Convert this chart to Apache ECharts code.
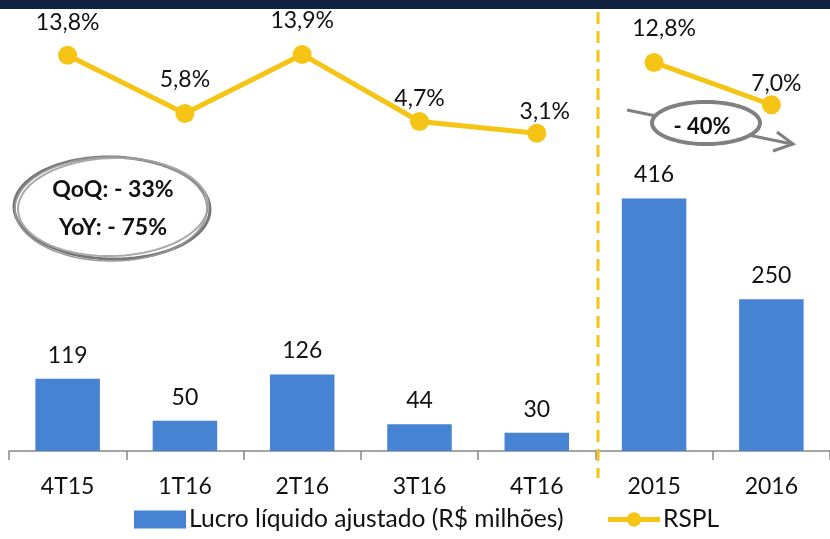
<!DOCTYPE html>
<html><head><meta charset="utf-8">
<script src="https://cdn.jsdelivr.net/npm/echarts@6/dist/echarts.min.js"></script>
<style>html,body{margin:0;padding:0;background:#fff}#c{width:830px;height:539px}</style>
</head><body><div id="c"></div>
<script>
const categories = ['4T15','1T16','2T16','3T16','4T16','2015','2016'];
const lucro = [119, 50, 126, 44, 30, 416, 250];
const rsplQuarter = [13.8, 5.8, 13.9, 4.7, 3.1, null, null];
const rsplYear = [null, null, null, null, null, 12.8, 7.0];

// label placement tweaks (style only): [distance, dx]
const lblTweak = [[12,0],[13,0],[13,0],[2,0],[1,8],[13,10],[0,5]];

const FONT = 'Lato, "Open Sans", sans-serif';
const BLUE = '#4684d3';
const YEL = '#f5c414';

function pct(v){ return v.toFixed(1).replace('.', ',') + '%'; }
function lineData(arr){
  return arr.map((v,i)=> v==null ? '-' : {
    value: v,
    label: {distance: lblTweak[i][0], offset: [lblTweak[i][1], 0]}
  });
}
function ellipsePts(cx, cy, rx, ry, rot){
  const p=[]; const n=90;
  for(let i=0;i<n;i++){const t=i/n*2*Math.PI;
    const x=rx*Math.cos(t), y=ry*Math.sin(t);
    p.push([cx + x*Math.cos(rot)-y*Math.sin(rot), cy + x*Math.sin(rot)+y*Math.cos(rot)]);}
  return p;
}

const chart = echarts.init(document.getElementById('c'));
const lineSeries = (data)=>({
  name: 'RSPL', type: 'line', yAxisIndex: 1, data: lineData(data),
  symbol: 'circle', symbolSize: 19, connectNulls: false,
  lineStyle: {color: YEL, width: 5}, itemStyle: {color: YEL},
  label: {show: true, position: 'top', color: '#111', fontSize: 23, fontFamily: FONT,
    formatter: p => pct(p.value)},
  z: 5
});
chart.setOption({
  animation: false,
  grid: {left: 9, right: -3, top: 26, bottom: 88, containLabel: false},
  legend: {
    bottom: 2, left: 129, itemWidth: 52, itemHeight: 18, itemGap: 42,
    textStyle: {fontSize: 24.6, fontFamily: FONT, color: '#111', padding: [0,0,0,-2]},
    data: [{name: 'Lucro líquido ajustado (R$ milhões)', icon: 'rect'},
           {name: 'RSPL', lineStyle: {width: 5, color: YEL}}]
  },
  xAxis: {
    type: 'category', data: categories,
    axisLine: {lineStyle: {color: '#888', width: 1.5}},
    axisTick: {show: true, length: 9, lineStyle: {color: '#888', width: 1.5}},
    axisLabel: {fontSize: 23, fontFamily: FONT, color: '#111', margin: 24}
  },
  yAxis: [
    {type: 'value', min: 0, max: 700, show: false, splitLine: {show: false}},
    {type: 'value', min: -40.5, max: 17.8, show: false, splitLine: {show: false}}
  ],
  series: [
    {name: 'Lucro líquido ajustado (R$ milhões)', type: 'bar', data: lucro, barWidth: '55%',
     itemStyle: {color: BLUE},
     label: {show: true, position: 'top', distance: 12, fontSize: 23, fontFamily: FONT, color: '#111'}},
    lineSeries(rsplQuarter),
    lineSeries(rsplYear)
  ],
  graphic: [
    {type: 'rect', shape: {x: 0, y: 0, width: 830, height: 9}, style: {fill: '#10223f'}},
    {type: 'line', shape: {x1: 598, y1: 12, x2: 598, y2: 478},
     style: {stroke: YEL, lineWidth: 3, lineDash: [12, 7]}, z: 10},
    // QoQ ellipse (sketchy double stroke)
    {type: 'polygon', shape: {points: ellipsePts(112, 208, 98, 51, 0.02)},
     style: {fill: '#fff', stroke: '#777', lineWidth: 3}, z: 20},
    {type: 'polygon', shape: {points: ellipsePts(113, 207, 95, 49, -0.03)},
     style: {fill: 'none', stroke: '#aaa', lineWidth: 2}, z: 21},
    {type: 'polygon', shape: {points: ellipsePts(111, 209, 96, 52, 0.0)},
     style: {fill: 'none', stroke: '#999', lineWidth: 1.5}, z: 21},
    {type: 'text', x: 113, y: 190, style: {text: 'QoQ: - 33%', font: 'bold 23px ' + FONT,
      fill: '#111', textAlign: 'center', textVerticalAlign: 'middle'}, z: 22},
    {type: 'text', x: 113, y: 228, style: {text: 'YoY: - 75%', font: 'bold 23px ' + FONT,
      fill: '#111', textAlign: 'center', textVerticalAlign: 'middle'}, z: 22},
    // arrow
    {type: 'line', shape: {x1: 627, y1: 110, x2: 792, y2: 144},
     style: {stroke: '#808080', lineWidth: 3}, z: 20},
    {type: 'polyline', shape: {points: [[777, 132], [793, 144], [773, 151]]},
     style: {stroke: '#808080', lineWidth: 3, fill: 'none'}, z: 20},
    {type: 'polygon', shape: {points: ellipsePts(706, 123, 54, 21, 0)},
     style: {fill: '#fff', stroke: '#808080', lineWidth: 4}, z: 21},
    {type: 'text', x: 702, y: 127, style: {text: '- 40%', font: 'bold 22px ' + FONT,
      fill: '#111', textAlign: 'center', textVerticalAlign: 'middle'}, z: 22}
  ]
});
</script></body></html>
